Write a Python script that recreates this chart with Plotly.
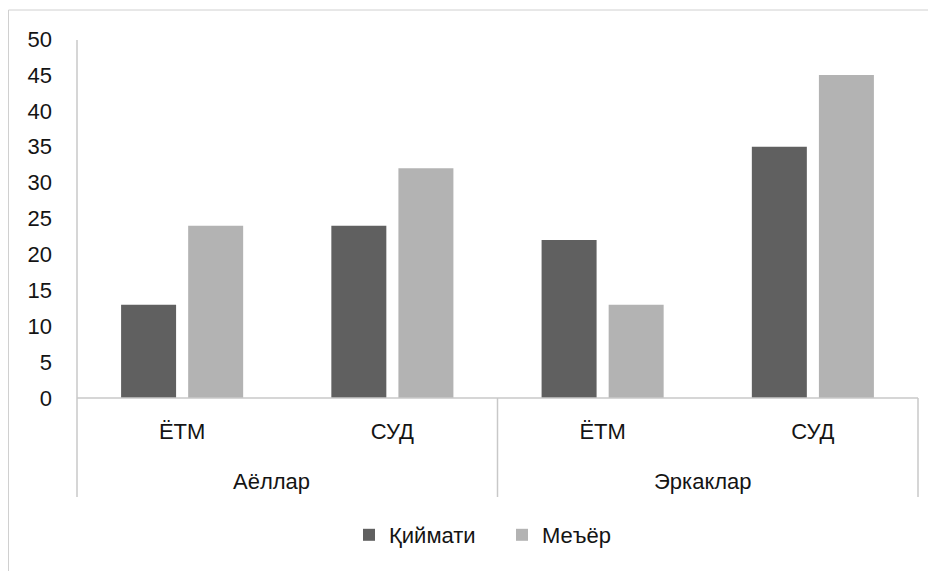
import plotly.graph_objects as go

groups = ["Аёллар", "Эркаклар"]
subcats = ["ЁТМ", "СУД", "ЁТМ", "СУД"]
series_names = ["Қиймати", "Меъёр"]
qiymati = [13, 24, 22, 35]
meyor = [24, 32, 13, 45]
y_ticks = [0, 5, 10, 15, 20, 25, 30, 35, 40, 45, 50]

colors = ["#606060", "#b3b3b3"]
FONT = "Liberation Sans, Arial, sans-serif"
TXT = "#141414"
xpos = list(range(len(subcats)))

fig = go.Figure()
for name, vals, c in zip(series_names, [qiymati, meyor], colors):
    fig.add_trace(go.Bar(x=xpos, y=vals, name=name, marker=dict(color=c, line=dict(width=0))))

# page body has an 8px margin; figure spans 8..936 x 8..571
OFF = 8
W, H = 936 - OFF, 571 - OFF
L, R, T = 77 - OFF, 936 - 918, 39 - OFF
B = H - (398 - OFF)
pw, ph = W - L - R, H - T - B

def px_x(p):
    return (p - OFF - L) / pw

def px_y(p):
    return (H - B - (p - OFF)) / ph

axis_col = "#c8c8c8"
frame_col = "#d0d0d0"
shapes = [
    # outer frame: top and left edges only
    dict(type="line", xref="paper", yref="paper", x0=px_x(8.5), x1=px_x(945), y0=px_y(10), y1=px_y(10),
         line=dict(color=frame_col, width=1)),
    dict(type="line", xref="paper", yref="paper", x0=px_x(8.5), x1=px_x(8.5), y0=px_y(575), y1=px_y(10),
         line=dict(color=frame_col, width=1)),
    dict(type="line", xref="paper", yref="paper", x0=0, x1=0, y0=px_y(497), y1=px_y(40),
         line=dict(color=axis_col, width=1.5)),
    dict(type="line", xref="paper", yref="paper", x0=0, x1=1, y0=0, y1=0,
         line=dict(color=axis_col, width=1.5)),
    dict(type="line", xref="x", yref="paper", x0=1.5, x1=1.5, y0=px_y(497), y1=0,
         line=dict(color=axis_col, width=1.5)),
    dict(type="line", xref="paper", yref="paper", x0=1, x1=1, y0=px_y(497), y1=0,
         line=dict(color=axis_col, width=1.5)),
]

annotations = [
    dict(text=groups[0], xref="paper", yref="paper", x=px_x(271), y=px_y(481), showarrow=False,
         xanchor="center", yanchor="middle", font=dict(family=FONT, size=22, color=TXT)),
    dict(text=groups[1], xref="paper", yref="paper", x=px_x(703), y=px_y(481), showarrow=False,
         xanchor="center", yanchor="middle", font=dict(family=FONT, size=22, color=TXT)),
]

fig.update_layout(
    width=W, height=H,
    margin=dict(l=L, r=R, t=T, b=B, pad=0),
    paper_bgcolor="white", plot_bgcolor="white",
    barmode="group", bargap=0.362, bargroupgap=0.18,
    font=dict(family=FONT, size=22, color=TXT),
    xaxis=dict(range=[-0.5, 3.5], tickvals=xpos, ticktext=subcats, showgrid=False, zeroline=False,
               showline=False, ticks="", ticklabelstandoff=18, tickfont=dict(size=22)),
    yaxis=dict(range=[0, 50], tickvals=y_ticks, showgrid=False, zeroline=False, showline=False,
               ticks="", ticklabelstandoff=24, tickfont=dict(size=22)),
    legend=dict(orientation="h", x=px_x(349), xanchor="left", y=px_y(535), yanchor="middle",
                font=dict(size=22), itemwidth=30, traceorder="normal",
                entrywidth=108, entrywidthmode="pixels"),
    shapes=shapes, annotations=annotations, showlegend=True,
)

fig.write_html("out.html")
